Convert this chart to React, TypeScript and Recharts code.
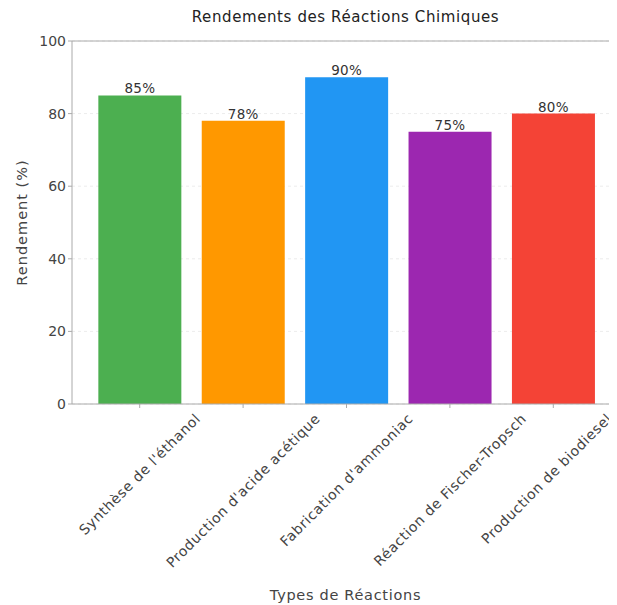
import React from 'react';
import { BarChart, Bar, XAxis, YAxis, CartesianGrid, Cell, LabelList, ReferenceLine } from 'recharts';

const reactions = [
  "Synthèse de l'éthanol",
  "Production d'acide acétique",
  "Fabrication d'ammoniac",
  'Réaction de Fischer-Tropsch',
  'Production de biodiesel',
];
const yields = [85, 78, 90, 75, 80];
const barColors = ['#4caf50', '#ff9800', '#2196f3', '#9c27b0', '#f44336'];
const yTicks = [0, 20, 40, 60, 80, 100];

const data = reactions.map((name, i) => ({ name, value: yields[i] }));

const FONT = '"DejaVu Sans", sans-serif';
const TEXT = '#444';
const AXIS = '#aaa';

let ctx: CanvasRenderingContext2D | null = null;
const textWidth = (t: string, size: number, spacing: number) => {
  if (!ctx) ctx = document.createElement('canvas').getContext('2d');
  const base = ctx ? ((ctx.font = `${size}px "DejaVu Sans"`), ctx.measureText(t).width) : t.length * size * 0.6;
  return base + spacing * t.length;
};

// matplotlib style: rotated 45deg, centred on the tick
const RotatedTick = (props: any) => {
  const { x, y, payload } = props;
  const size = 14;
  const ls = 0.6;
  const half = ((textWidth(payload.value, size, ls) + size) * Math.SQRT1_2) / 2;
  // keep the last label inside the picture (reference barely clips it)
  const cx = Math.min(x, 614 - half);
  const cy = y - 1 + half;
  return (
    <text
      x={cx}
      y={cy}
      transform={`rotate(-45 ${cx} ${cy})`}
      textAnchor="middle"
      dominantBaseline="central"
      fontSize={size}
      letterSpacing={ls}
      fontFamily={FONT}
      fill={TEXT}
    >
      {payload.value}
    </text>
  );
};

export default function App() {
  return (
    <div style={{ position: 'relative', margin: '-8px 0 0 -8px', width: 617, height: 605, overflow: 'hidden', background: '#fff' }}>
      <div
        style={{
          position: 'absolute',
          left: 72,
          width: 547,
          top: 8,
          textAlign: 'center',
          fontFamily: FONT,
          fontSize: 15,
          letterSpacing: 0.6,
          color: '#222',
        }}
      >
        Rendements des Réactions Chimiques
      </div>
      <BarChart
        width={625}
        height={605}
        data={data}
        margin={{ top: 41, right: 6, bottom: 6, left: 0 }}
        barCategoryGap="10%"
      >
        <CartesianGrid vertical={false} strokeDasharray="3 3" stroke="#ececec" />
        <XAxis
          dataKey="name"
          interval={0}
          height={195}
          padding={{ left: 16, right: 14 }}
          tick={<RotatedTick />}
          tickSize={4}
          tickMargin={4}
          stroke={AXIS}
          label={{ value: 'Types de Réactions', position: 'insideBottom', offset: -1, fill: TEXT, fontSize: 14.5, letterSpacing: 0.7, fontFamily: FONT }}
        />
        <YAxis
          width={72}
          domain={[0, 100]}
          ticks={yTicks}
          tickSize={4}
          stroke={AXIS}
          tick={{ fill: TEXT, fontSize: 14, fontFamily: FONT }}
          label={{ value: 'Rendement (%)', angle: -90, position: 'center', dx: -14, fill: TEXT, fontSize: 14.5, letterSpacing: 1, fontFamily: FONT }}
        />
        <ReferenceLine y={100} stroke={AXIS} />
        <Bar dataKey="value" isAnimationActive={false}>
          {data.map((d, i) => (
            <Cell key={d.name} fill={barColors[i]} />
          ))}
          <LabelList
            dataKey="value"
            position="top"
            offset={2}
            formatter={(v: any) => `${v}%`}
            fill="#333"
            fontSize={13.5}
            letterSpacing={0.3}
            fontFamily={FONT}
          />
        </Bar>
      </BarChart>
    </div>
  );
}
